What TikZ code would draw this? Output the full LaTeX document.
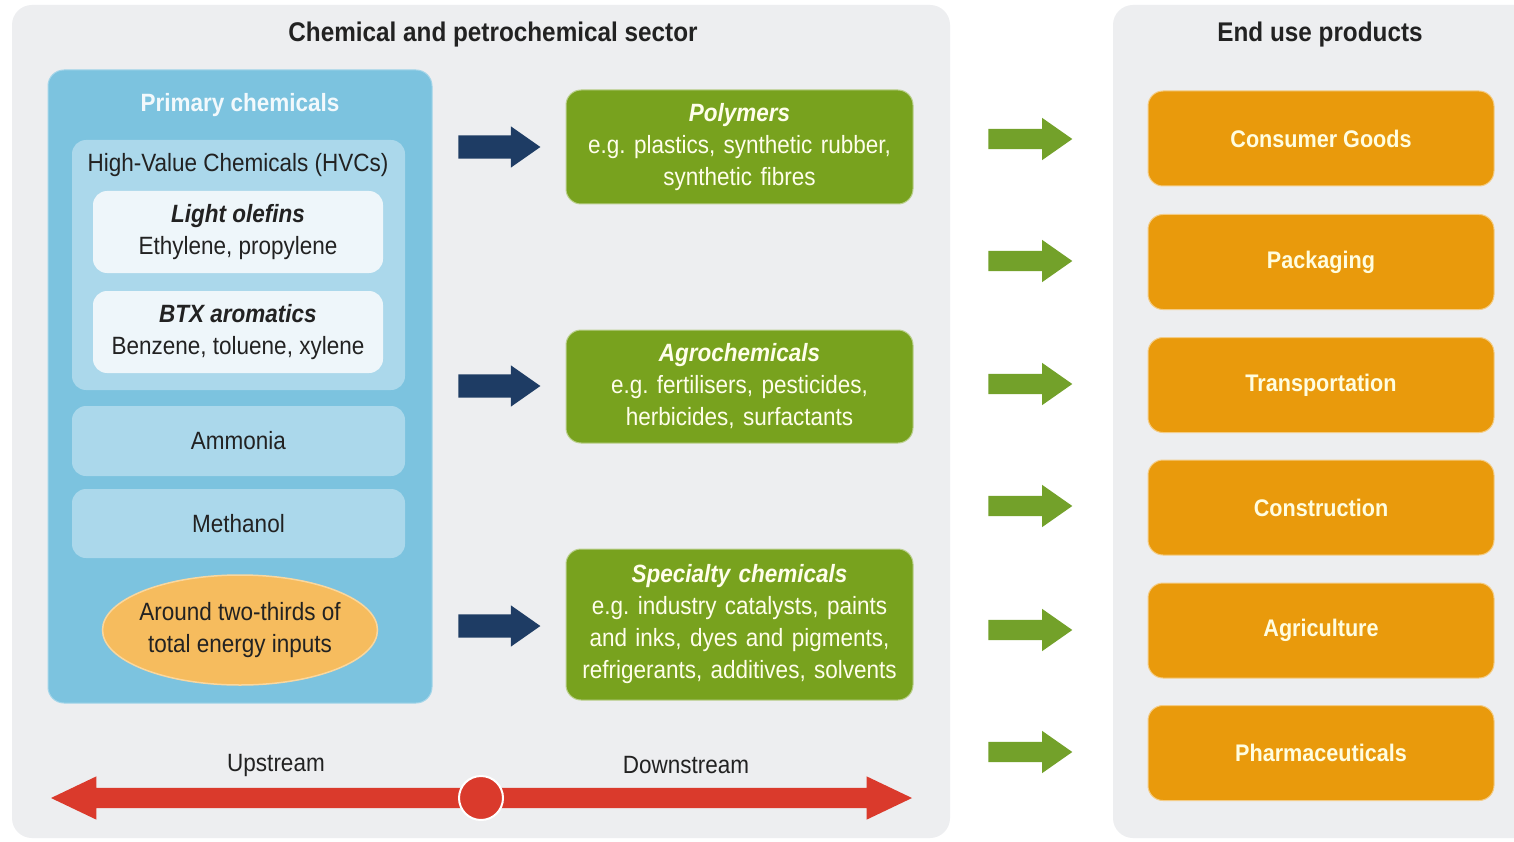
\documentclass[tikz,border=0pt]{standalone}
\usepackage{fontspec}
\setmainfont{Liberation Sans}[FakeStretch=0.9]
\usetikzlibrary{shapes.arrows, shapes.geometric}
\frenchspacing

\definecolor{panelgray}{HTML}{EDEEF0}
\definecolor{textdark}{HTML}{222222}
\definecolor{primblue}{HTML}{7CC3DF}
\definecolor{midblue}{HTML}{ABD8EB}
\definecolor{paleblue}{HTML}{EEF6FA}
\definecolor{energyorange}{HTML}{F6BC5E}
\definecolor{navyblue}{HTML}{1E3C64}
\definecolor{chemgreen}{HTML}{78A21E}
\definecolor{arrowgreen}{HTML}{73A12A}
\definecolor{enduseorange}{HTML}{E99A0C}
\definecolor{streamred}{HTML}{DA3A2C}

\begin{document}
\begin{tikzpicture}[
    x=1pt, y=-1pt,
    every node/.style={font=\fontsize{25}{32}\selectfont, text=textdark, align=center},
    panel/.style={fill=panelgray, rounded corners=20pt},
    heading/.style={font=\fontsize{27}{32}\selectfont\bfseries},
    primbox/.style={fill=primblue, draw=primblue!70!white, line width=1pt,
        rounded corners=16pt, minimum width=384pt, minimum height=633pt},
    hvcbox/.style={fill=midblue, rounded corners=14pt, minimum width=333pt},
    hvcitem/.style={fill=paleblue, rounded corners=14pt, minimum width=290pt, minimum height=82pt},
    energy/.style={ellipse, fill=energyorange, draw=energyorange!60!white, line width=1.5pt,
        minimum width=275pt, minimum height=110pt, inner sep=-4pt},
    greenbox/.style={fill=chemgreen, draw=chemgreen!50!white, line width=1pt, rounded corners=15pt,
        minimum width=347pt, text width=335pt, text=white!92!yellow},
    enduse/.style={fill=enduseorange, draw=enduseorange!50!white, line width=1pt, rounded corners=15pt,
        minimum width=346pt, minimum height=95pt, text=white!88!yellow,
        font=\fontsize{24}{30}\selectfont\bfseries},
    navyarrow/.style={single arrow, fill=navyblue, inner xsep=0pt, inner ysep=11.5pt,
        minimum height=82pt, single arrow head extend=9pt, single arrow tip angle=70},
    greenarrow/.style={single arrow, fill=arrowgreen, inner xsep=0pt, inner ysep=10pt,
        minimum height=84pt, single arrow head extend=11pt, single arrow tip angle=70},
]

  % background and the two panels
  \useasboundingbox (0,0) rectangle (1514,842);
  \fill[white] (0,0) rectangle (1514,842);
  \fill[panel] (12,5) rectangle (950,838);
  \fill[panel] (1113,5) rectangle (1545,838);

  \node[heading] (sector) at (493,35) {Chemical and petrochemical sector};
  \node[heading] (enduse) at (1320,35) {End use products};

  % primary chemicals
  \node[primbox] (primary) at (240,386.5) {};
  \node[font=\fontsize{25}{32}\selectfont\bfseries, text=white!90!primblue] (primtitle) at (240,105) {Primary chemicals};
  \node[hvcbox, minimum height=250pt] (hvc) at (238.5,265) {};
  \node (hvctitle) at (238,165) {High-Value Chemicals (HVCs)};
  \node[hvcitem] (olefins) at (238,232) {\textbf{\textit{Light olefins}}\\Ethylene, propylene};
  \node[hvcitem] (btx) at (238,332) {\textbf{\textit{BTX aromatics}}\\Benzene, toluene, xylene};
  \node[hvcbox, minimum height=70pt] (ammonia) at (238.5,441) {Ammonia};
  \node[hvcbox, minimum height=69pt] (methanol) at (238.5,523.5) {Methanol};
  \node[energy] (energy) at (240,630) {Around two-thirds of\\total energy inputs};

  % downstream chemicals
  \node[greenbox, minimum height=114pt] (polymers) at (739.5,147)
    {\textbf{\textit{Polymers}}\\e.g. plastics, synthetic rubber,\\synthetic fibres};
  \node[greenbox, minimum height=113pt] (agro) at (739.5,386.5)
    {\textbf{\textit{Agrochemicals}}\\e.g. fertilisers, pesticides,\\herbicides, surfactants};
  \node[greenbox, minimum height=151pt] (specialty) at (739.5,624.5)
    {\textbf{\textit{Specialty chemicals}}\\e.g. industry catalysts, paints\\and inks, dyes and pigments,\\refrigerants, additives, solvents};

  \node[navyarrow] (toPolymers) at (491,147) {};
  \node[navyarrow] (toAgro) at (491,386) {};
  \node[navyarrow] (toSpecialty) at (491,626) {};

  % end use products
  \node[enduse] (consumer) at (1321,138.5) {Consumer Goods};
  \node[enduse] (packaging) at (1321,262) {Packaging};
  \node[enduse] (transport) at (1321,385) {Transportation};
  \node[enduse] (construction) at (1321,507.5) {Construction};
  \node[enduse] (agriculture) at (1321,630.5) {Agriculture};
  \node[enduse] (pharma) at (1321,753) {Pharmaceuticals};

  \foreach \y/\name in {139/consumer, 261/packaging, 384/transport, 506/construction, 630/agriculture, 752/pharma}
    \node[greenarrow] (arrow-\name) at (1023,\y) {};

  % upstream / downstream
  \node[double arrow, fill=streamred, inner xsep=0pt, inner ysep=10pt, minimum height=861pt,
        double arrow head extend=11.5pt, double arrow tip angle=51] (stream) at (481.5,798) {};
  \node[circle, fill=streamred, draw=white, line width=2pt, minimum size=44pt, inner sep=0pt] (split) at (481,798) {};
  \node (upstream) at (276,765) {Upstream};
  \node (downstream) at (686,765) {Downstream};

\end{tikzpicture}
\end{document}
